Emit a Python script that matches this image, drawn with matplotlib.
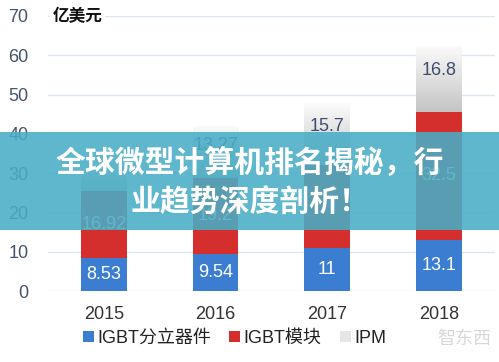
import matplotlib
matplotlib.use("Agg")
import matplotlib.pyplot as plt
import numpy as np
from matplotlib.patches import Rectangle

plt.rcParams["font.family"] = ["Liberation Sans", "Noto Sans CJK SC", "DejaVu Sans"]

years = ["2015", "2016", "2017", "2018"]
discrete = [8.53, 9.54, 11, 13.1]
module = [16.92, 19.2, 21.1, 32.5]
ipm = [6.07, 13.27, 15.7, 16.8]
discrete_labels = ["8.53", "9.54", "11", "13.1"]
module_labels = ["16.92", "19.2", "", "32.5"]
ipm_labels = ["", "13.27", "15.7", "16.8"]
series_names = ["IGBT分立器件", "IGBT模块", "IPM"]

fig = plt.figure(figsize=(4.99, 3.62), dpi=100)
ax = fig.add_axes([0.096, 0.196, 0.896, 0.76])

x = np.arange(len(years))
w = 0.41
bottom2 = np.array(discrete)
bottom3 = bottom2 + np.array(module)

b1 = ax.bar(x, discrete, w, color="#3b7dd0", zorder=3, label=series_names[0])
b2 = ax.bar(x, module, w, bottom=bottom2, color="#d42f2c", zorder=3, label=series_names[1])
b3 = ax.bar(x, ipm, w, bottom=bottom3, color="#e6e6e6", zorder=3, label=series_names[2])

# gradient fill for IPM segments
grad = np.linspace(0, 1, 100).reshape(-1, 1)
cmap = matplotlib.colors.LinearSegmentedColormap.from_list("ipm", ["#c4c4c4", "#fbfbfb"])
for r in b3:
    im = ax.imshow(grad, extent=[r.get_x(), r.get_x() + r.get_width(), r.get_y(), r.get_y() + r.get_height()],
                   origin="lower", aspect="auto", cmap=cmap, zorder=4)
    im.set_clip_path(r)

for i in range(len(years)):
    if discrete_labels[i]:
        ax.text(x[i], discrete[i] / 2, discrete_labels[i], ha="center", va="center",
                color="white", fontsize=13, zorder=6)
    if module_labels[i]:
        ax.text(x[i], bottom2[i] + module[i] / 2, module_labels[i], ha="center", va="center",
                color="white", fontsize=13, zorder=6)
    if ipm_labels[i]:
        ax.text(x[i], bottom3[i] + ipm[i] * 0.62, ipm_labels[i], ha="center", va="center",
                color="#3e4d6e", fontsize=13, zorder=6)

ax.set_xlim(-0.5, 3.5)
ax.set_ylim(0, 70)
ax.set_yticks(range(0, 71, 10))
ax.set_xticks(x)
ax.set_xticklabels(years)
ax.tick_params(length=0, labelsize=13)
ax.tick_params(axis="y", colors="#44546a", pad=14)
ax.tick_params(axis="x", colors="#333333", pad=11)
ax.grid(axis="y", color="#dde6ef", lw=1, zorder=0)
for s in ax.spines.values():
    s.set_visible(False)

ax.text(0.01, 70, "亿美元", fontsize=12, fontweight="bold", color="#111111",
        va="center", ha="left", transform=ax.get_yaxis_transform(),
        bbox=dict(facecolor="white", edgecolor="none", pad=2), zorder=5)

fig.legend(handles=[b1, b2, b3], labels=series_names, loc="center", bbox_to_anchor=(0.47, 0.066),
           ncol=3, frameon=False, fontsize=13, handlelength=0.6, handleheight=0.6,
           handletextpad=0.2, columnspacing=1.0, labelcolor="#222222")

fig.text(0.93, 0.062, "智东西", fontsize=13, color="#d8d8d8", ha="center", va="center")

# overlay banner
fig.add_artist(Rectangle((0, 0.365), 1, 0.27, transform=fig.transFigure,
                         facecolor="#48adc6", alpha=0.88, edgecolor="none", zorder=10))
fig.text(0.5, 1 - 163 / 362, "全球微型计算机排名揭秘，行", ha="center", va="center",
         fontsize=21.5, fontweight="heavy", color="white", zorder=11)
fig.text(0.5, 1 - 203 / 362, "业趋势深度剖析！", ha="center", va="center",
         fontsize=21.5, fontweight="heavy", color="white", zorder=11)

fig.savefig("out.png", dpi=100)
